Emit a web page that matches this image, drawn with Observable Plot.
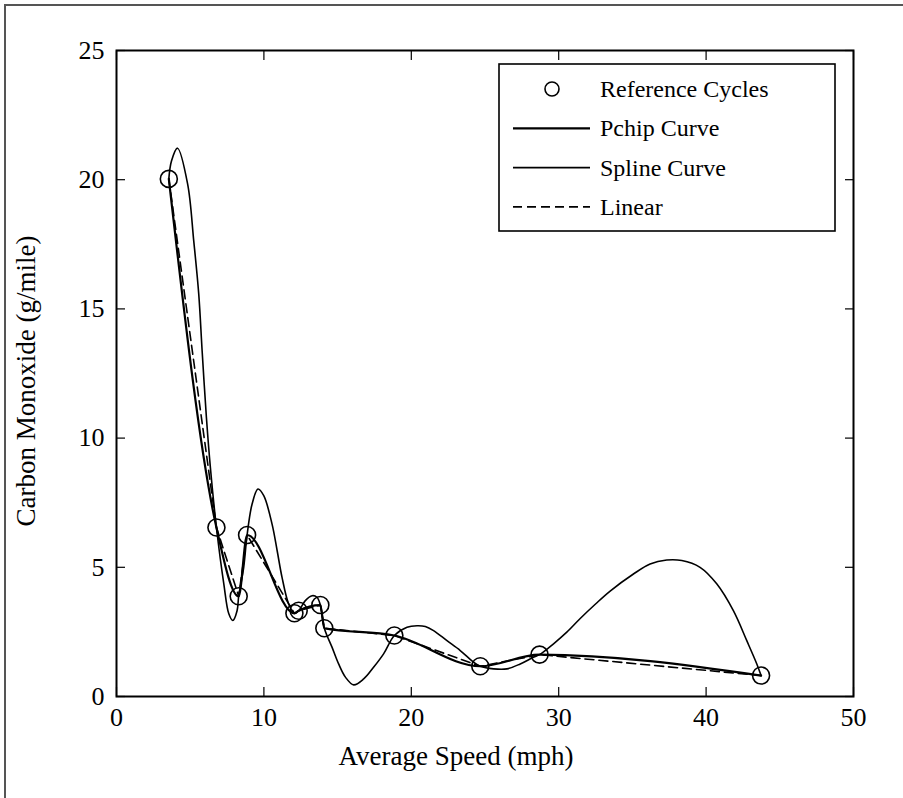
<!DOCTYPE html>
<html>
<head>
<meta charset="utf-8">
<script src="https://cdn.jsdelivr.net/npm/d3@7"></script>
<script src="https://cdn.jsdelivr.net/npm/@observablehq/plot@0.6"></script>
<style>
  html, body { margin: 0; padding: 0; background: #fff; }
  #wrap { position: relative; width: 903px; height: 798px; overflow: hidden; background: #fff; }
  #border { position: absolute; left: 4px; top: 4px; width: 1200px; height: 1200px;
            border-left: 2px solid #555; border-top: 2px solid #555; pointer-events: none; }
  #chart { position: absolute; left: 0; top: 0; }
  #overlay { position: absolute; left: 0; top: 0; pointer-events: none; }
</style>
</head>
<body>
<div id="wrap">
  <div id="chart"></div>
  <svg id="overlay" width="903" height="798"></svg>
  <div id="border"></div>
</div>
<script>
// ---- data ----
// reference cycles
const speed = [3.55, 6.78, 8.29, 8.86, 12.07, 12.36, 13.83, 14.10, 18.85, 24.68, 28.70, 43.73];
const co    = [20.03, 6.54, 3.88, 6.25, 3.22, 3.32, 3.54, 2.64, 2.36, 1.17, 1.62, 0.81];
// spline curve
const splineSpeed = [3.55, 3.73, 4.14, 4.83, 5.24, 5.58, 5.81, 6.10, 6.37, 6.78, 7.28, 7.62, 7.89, 8.18, 8.29,
  8.63, 8.86, 9.20, 9.60, 9.99, 10.55, 10.90, 11.23, 11.68, 12.07, 12.36, 12.81, 13.27, 13.60, 13.83, 14.10,
  14.62, 15.07, 15.53, 16.09, 16.77, 17.44, 18.12, 18.85, 19.71, 20.39, 20.95, 21.51, 22.42, 23.32, 24.22,
  24.68, 25.58, 26.49, 27.39, 28.29, 28.70, 29.65, 30.55, 31.46, 32.50, 33.49, 35.07, 36.20, 37.33, 38.35, 39.59,
  40.72, 41.85, 42.76, 43.44, 43.73];
const splineCo = [20.03, 20.72, 21.22, 19.82, 17.63, 15.57, 13.37, 10.80, 8.86, 6.54, 4.36, 3.20, 2.94, 3.32, 3.88,
  5.00, 6.25, 7.45, 8.03, 7.77, 6.68, 5.64, 4.61, 3.58, 3.22, 3.32, 3.71, 3.90, 3.84, 3.54, 2.64,
  1.91, 1.26, 0.75, 0.45, 0.68, 1.13, 1.65, 2.36, 2.68, 2.74, 2.71, 2.55, 2.16, 1.78, 1.33,
  1.17, 1.07, 1.07, 1.26, 1.52, 1.62, 2.04, 2.49, 3.02, 3.58, 4.08, 4.74, 5.13, 5.28, 5.26, 5.00,
  4.36, 3.32, 2.16, 1.26, 0.81];
const xTicks = [0, 10, 20, 30, 40, 50];
const yTicks = [0, 5, 10, 15, 20, 25];
const seriesNames = ["Reference Cycles", "Pchip Curve", "Spline Curve", "Linear"];
const xTitle = "Average Speed (mph)";
const yTitle = "Carbon Monoxide (g/mile)";

const data = speed.map((s, i) => ({speed: s, co: co[i]}));
const splineData = splineSpeed.map((s, i) => ({speed: s, co: splineCo[i]}));
const FONT = '"Liberation Serif", "Times New Roman", serif';

const chart = Plot.plot({
  width: 903,
  height: 798,
  marginLeft: 116,
  marginRight: 50,
  marginTop: 50,
  marginBottom: 102,
  style: {fontFamily: FONT, fontSize: "26px", color: "black", background: "transparent", overflow: "visible"},
  x: {domain: [0, 50]},
  y: {domain: [0, 25]},
  marks: [
    Plot.line(splineData, {x: "speed", y: "co", curve: "catmull-rom", stroke: "black", strokeWidth: 1.6}),
    Plot.line(data, {x: "speed", y: "co", curve: "linear", stroke: "black", strokeWidth: 1.6, strokeDasharray: "9,5"}),
    Plot.line(data, {x: "speed", y: "co", curve: "monotone-x", stroke: "black", strokeWidth: 2.2}),
    Plot.dot(data, {x: "speed", y: "co", r: 8.5, stroke: "black", strokeWidth: 1.6, fill: "none"}),
    Plot.frame({stroke: "black", strokeWidth: 2}),
    Plot.axisX(xTicks, {anchor: "bottom", tickSize: -9, fill: "none", label: null, strokeWidth: 1.2}),
    Plot.axisX(xTicks, {anchor: "top", tickSize: -9, fill: "none", label: null, strokeWidth: 1.2}),
    Plot.axisY(yTicks, {anchor: "left", tickSize: -9, fill: "none", label: null, strokeWidth: 1.2}),
    Plot.axisY(yTicks, {anchor: "right", tickSize: -9, fill: "none", label: null, strokeWidth: 1.2}),
    Plot.axisX(xTicks, {anchor: "bottom", tickSize: 0, tickPadding: 11, label: null}),
    Plot.axisY(yTicks, {anchor: "left", tickSize: 0, tickPadding: 12, label: null})
  ]
});
document.getElementById("chart").appendChild(chart);

// ---- axis titles and legend (overlay) ----
const ov = d3.select("#overlay").style("font-family", FONT);
ov.append("text").attr("x", 456).attr("y", 765).attr("text-anchor", "middle")
  .attr("font-size", 27).attr("fill", "black").text(xTitle);
ov.append("text").attr("transform", "translate(35,381) rotate(-90)").attr("text-anchor", "middle")
  .attr("font-size", 27).attr("fill", "black").text(yTitle);

const lg = ov.append("g").attr("transform", "translate(499,64)");
lg.append("rect").attr("width", 336).attr("height", 167).attr("fill", "white")
  .attr("stroke", "black").attr("stroke-width", 1.6);
const rowY = i => 25 + i * 39.3;
seriesNames.forEach((name, i) => {
  const y = rowY(i);
  if (i === 0) {
    lg.append("circle").attr("cx", 53).attr("cy", y).attr("r", 7)
      .attr("fill", "none").attr("stroke", "black").attr("stroke-width", 1.6);
  } else {
    lg.append("line").attr("x1", 14).attr("x2", 91).attr("y1", y).attr("y2", y)
      .attr("stroke", "black")
      .attr("stroke-width", i === 1 ? 2.2 : 1.6)
      .attr("stroke-dasharray", i === 3 ? "9,5" : null);
  }
  lg.append("text").attr("x", 101).attr("y", y + 8).attr("font-size", 24)
    .attr("fill", "black").text(name);
});
</script>
</body>
</html>
